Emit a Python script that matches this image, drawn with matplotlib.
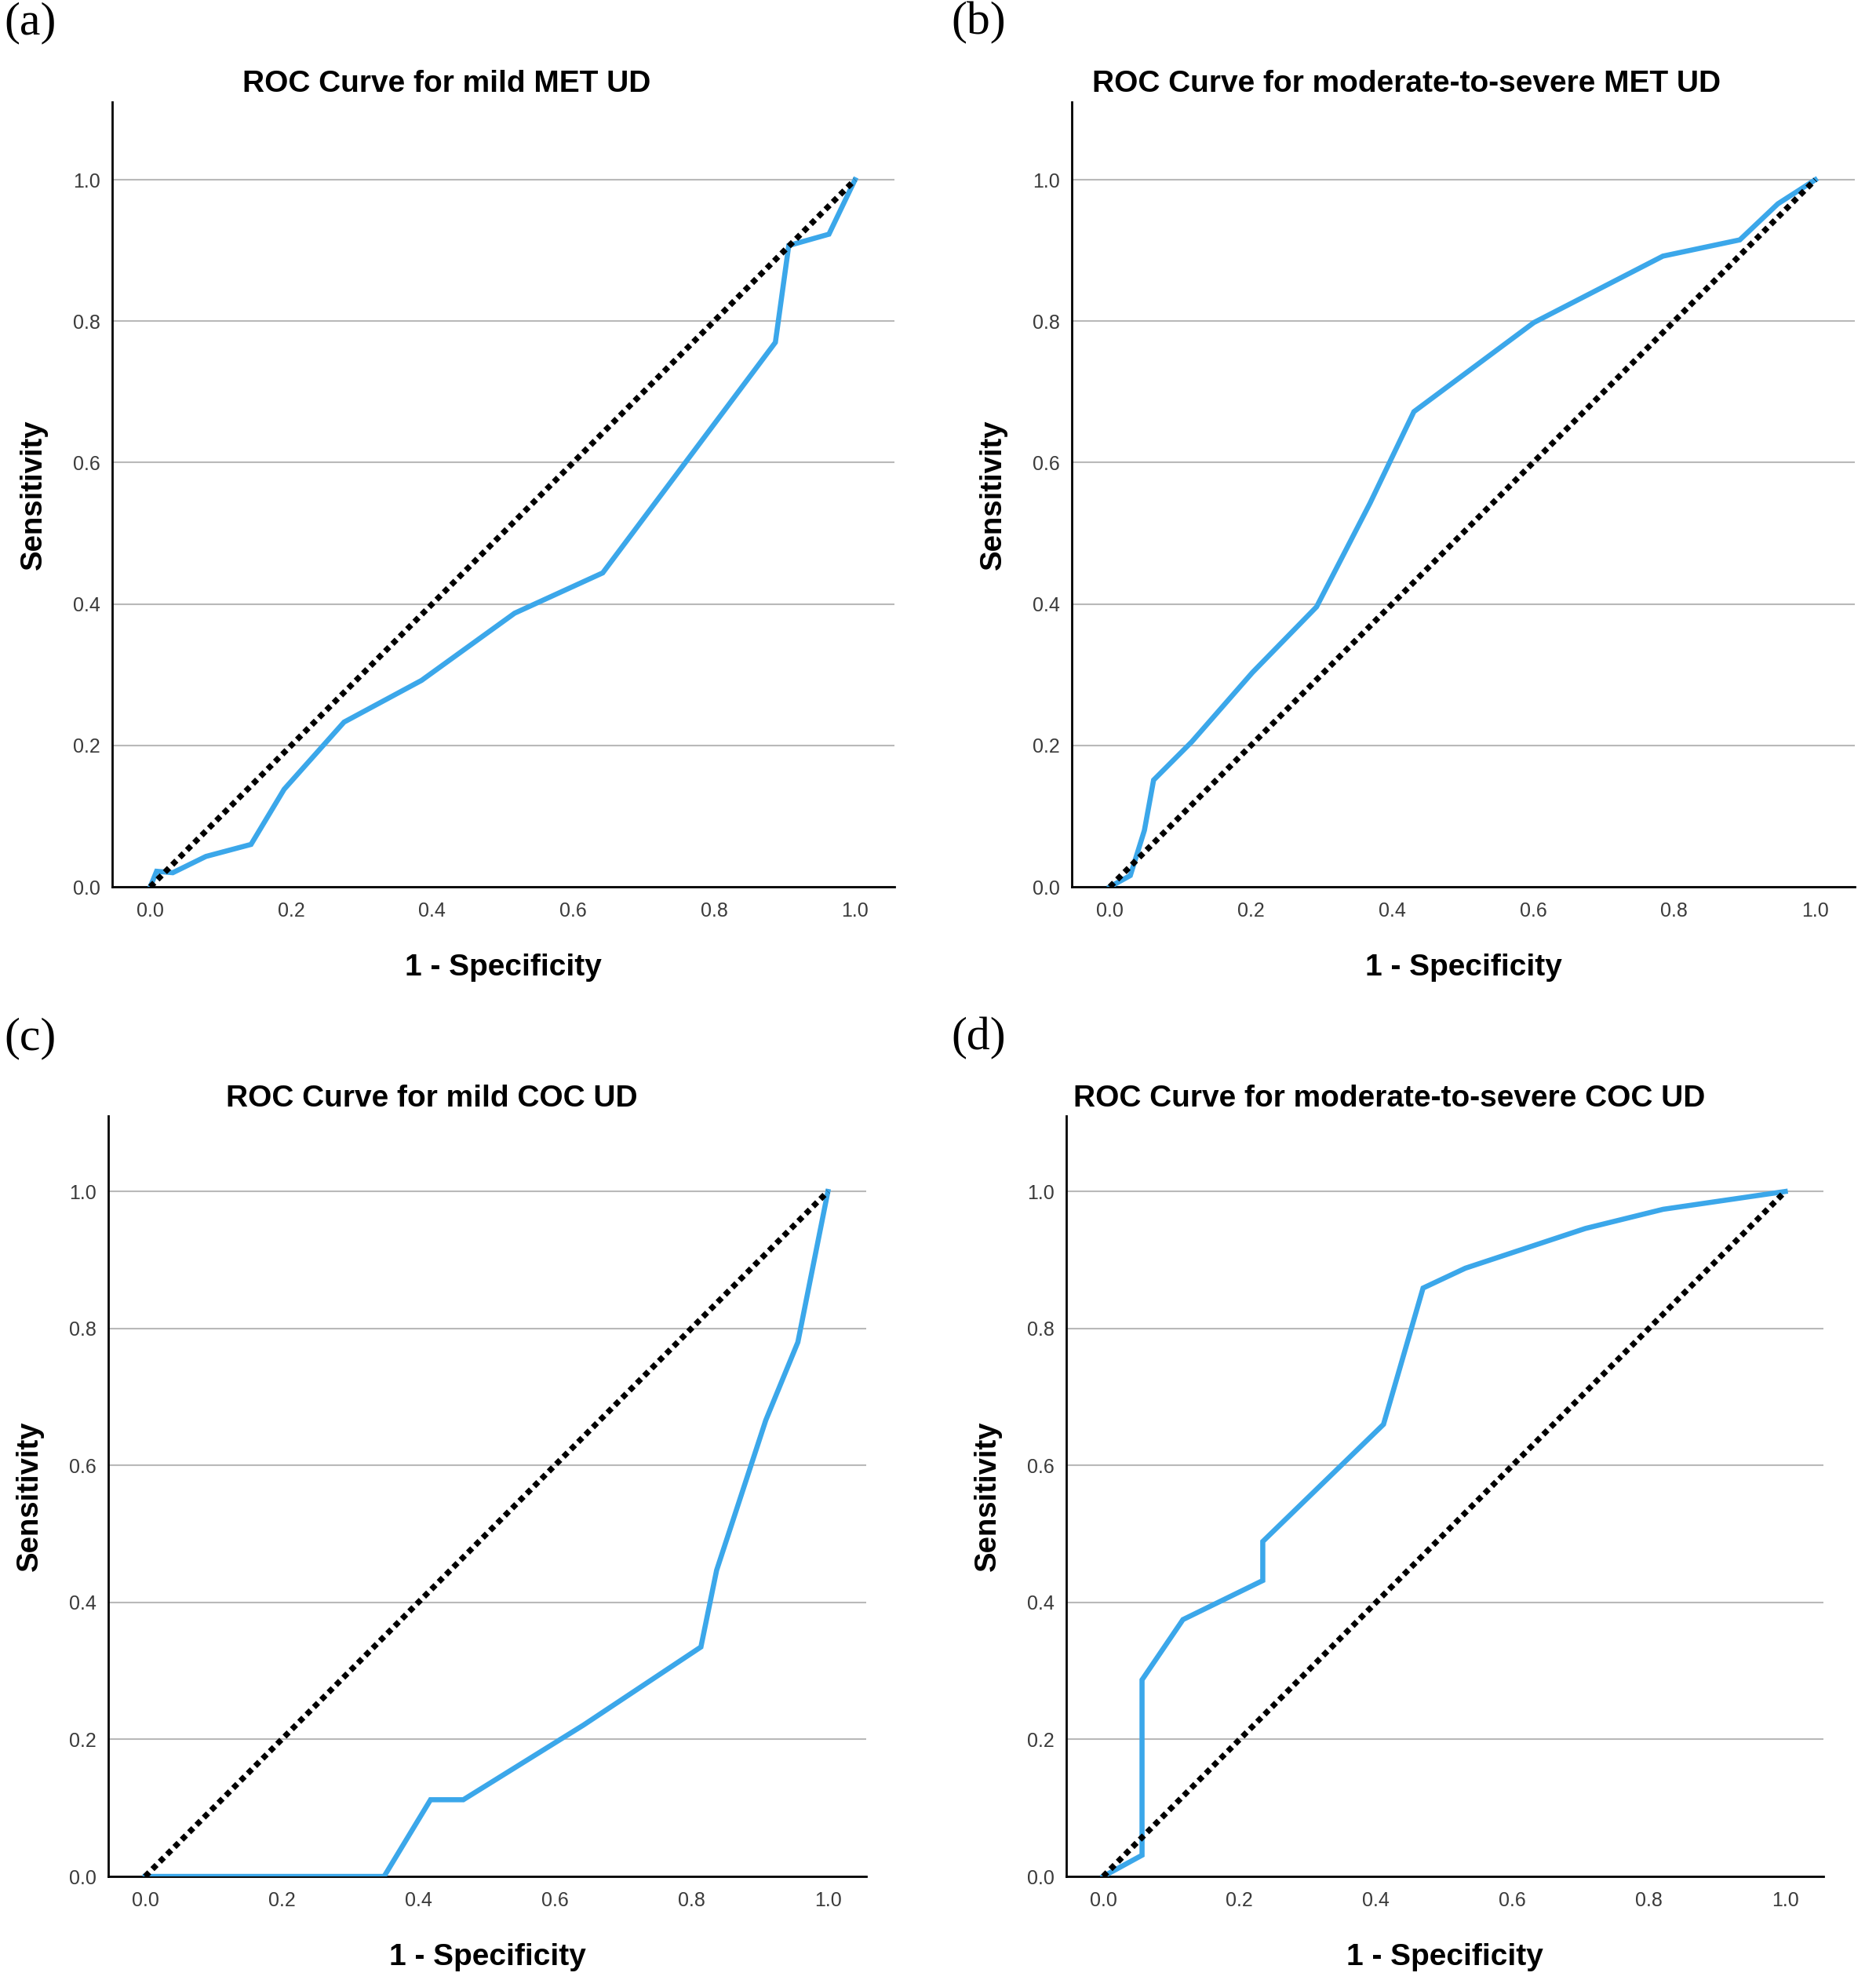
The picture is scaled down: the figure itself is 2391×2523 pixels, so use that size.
import matplotlib
matplotlib.use("Agg")
import matplotlib.pyplot as plt

# ---- data ----
titles = ["ROC Curve for mild MET UD",
          "ROC Curve for moderate-to-severe MET UD",
          "ROC Curve for mild COC UD",
          "ROC Curve for moderate-to-severe COC UD"]
panel_labels = ["(a)", "(b)", "(c)", "(d)"]

a_fpr = [0.0, 0.009, 0.032, 0.079, 0.143, 0.19, 0.275, 0.385, 0.517, 0.642, 0.887, 0.906, 0.963, 1.0]
a_tpr = [0.0, 0.022, 0.020, 0.043, 0.060, 0.138, 0.233, 0.292, 0.387, 0.444, 0.770, 0.907, 0.923, 1.0]

b_fpr = [0.0, 0.029, 0.049, 0.062, 0.116, 0.202, 0.293, 0.369, 0.431, 0.601, 0.784, 0.893, 0.947, 1.0]
b_tpr = [0.0, 0.016, 0.080, 0.151, 0.205, 0.303, 0.396, 0.543, 0.672, 0.798, 0.892, 0.915, 0.966, 1.0]

c_fpr = [0.0, 0.350, 0.418, 0.466, 0.642, 0.814, 0.837, 0.909, 0.956, 1.0]
c_tpr = [0.0, 0.0, 0.112, 0.112, 0.221, 0.335, 0.447, 0.666, 0.780, 1.0]

d_fpr = [0.0, 0.057, 0.057, 0.117, 0.234, 0.234, 0.411, 0.469, 0.531, 0.707, 0.821, 1.0]
d_tpr = [0.0, 0.031, 0.287, 0.375, 0.432, 0.489, 0.660, 0.859, 0.888, 0.946, 0.974, 1.0]

curves = [(a_fpr, a_tpr), (b_fpr, b_tpr), (c_fpr, c_tpr), (d_fpr, d_tpr)]
ref_x = [0.0, 1.0]
ref_y = [0.0, 1.0]
ticks = [0.0, 0.2, 0.4, 0.6, 0.8, 1.0]
tick_labels = ["0.0", "0.2", "0.4", "0.6", "0.8", "1.0"]

# ---- layout ----
W, H = 2391, 2523
fig = plt.figure(figsize=(W / 100, H / 100), dpi=100)
fig.patch.set_facecolor("white")

# [left, bottom, width, height] in figure fraction
rects = [
    [0.0598, 0.5521, 0.4170, 0.3964],
    [0.5713, 0.5521, 0.4174, 0.3964],
    [0.0577, 0.0523, 0.4040, 0.3840],
    [0.5684, 0.0523, 0.4036, 0.3840],
]
letter_pos = [(5, 2), (1212, 2), (5, 1296), (1212, 1296)]

sans = ["Liberation Sans", "DejaVu Sans"]
serif = ["Liberation Serif", "DejaVu Serif"]

for i, rect in enumerate(rects):
    ax = fig.add_axes(rect)
    fx, fy = curves[i]
    ax.set_xlim(-0.054, 1.056)
    ax.set_ylim(0.0, 1.11)
    ax.plot(fx, fy, color="#3ba7ea", linewidth=4.7, solid_joinstyle="miter", zorder=3)
    ax.plot(ref_x, ref_y, color="black", linewidth=5.3, linestyle=(0, (1, 0.8)),
            dash_capstyle="butt", zorder=4)
    ax.set_xticks(ticks)
    ax.set_xticklabels(tick_labels, family=sans, fontsize=18, color="#3a3a3a")
    ax.set_yticks(ticks)
    ax.set_yticklabels(tick_labels, family=sans, fontsize=18, color="#3a3a3a")
    ax.yaxis.grid(True, color="#b9b9b9", linewidth=1.5)
    ax.set_axisbelow(True)
    ax.tick_params(axis="x", length=0, pad=14)
    ax.tick_params(axis="y", length=0, pad=11)
    for s in ["top", "right"]:
        ax.spines[s].set_visible(False)
    for s in ["left", "bottom"]:
        ax.spines[s].set_color("black")
        ax.spines[s].set_linewidth(2.0)
    ax.set_xlabel("1 - Specificity", family=sans, fontsize=28, fontweight="bold", labelpad=30)
    ax.set_ylabel("Sensitivity", family=sans, fontsize=27.5, fontweight="bold", labelpad=23)
    ax.text(0.427, 1.013, titles[i], transform=ax.transAxes, ha="center", va="baseline",
            family=sans, fontsize=28, fontweight="bold")
    lx, ly = letter_pos[i]
    fig.text(lx / W, 1 - ly / H, panel_labels[i], ha="left", va="top",
             family=serif, fontsize=43)

fig.savefig("out.png", dpi=100, facecolor="white")
